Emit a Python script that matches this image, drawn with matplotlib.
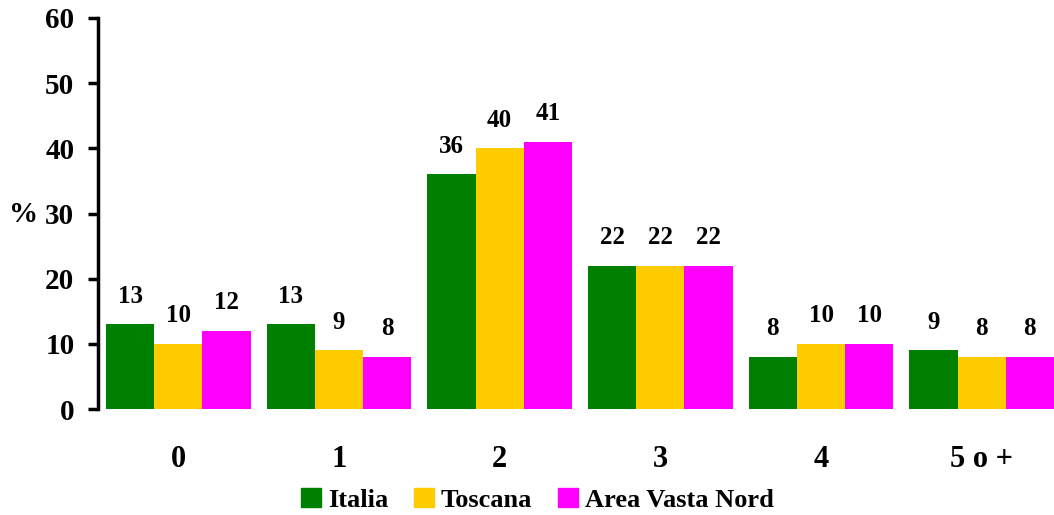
import numpy as np
import matplotlib.pyplot as plt
from matplotlib.patches import Patch

categories = ["0", "1", "2", "3", "4", "5 o +"]
italia = [13, 13, 36, 22, 8, 9]
toscana = [10, 9, 40, 22, 10, 8]
area_vasta_nord = [12, 8, 41, 22, 10, 8]

series = [("Italia", italia, "#008000"),
          ("Toscana", toscana, "#FFCC00"),
          ("Area Vasta Nord", area_vasta_nord, "#FF00FF")]

plt.rcParams["font.family"] = ["Liberation Serif", "DejaVu Serif"]
plt.rcParams["font.weight"] = "bold"

fig = plt.figure(figsize=(10.54, 5.15), dpi=100)
ax = fig.add_axes([98 / 1054, 106 / 515, 956 / 1054, 391 / 515])

x = np.arange(len(categories))
width = 0.3
for i, (name, vals, color) in enumerate(series):
    pos = x + (i - 1) * width
    ax.bar(pos, vals, width=width, color=color, label=name)
    for px, v in zip(pos, vals):
        ax.annotate(str(v), (px, v), xytext=(0, 12), textcoords="offset points",
                    ha="center", va="bottom", fontsize=18, fontweight="bold")

ax.set_xlim(-0.5, 5.45)
ax.set_ylim(0, 60)
ax.set_yticks(range(0, 61, 10))
ax.set_xticks(x)
ax.set_xticklabels(categories, fontsize=22, fontweight="bold")
ax.tick_params(axis="x", length=0, pad=26)
ax.tick_params(axis="y", labelsize=21, width=2.5, length=7, pad=10)
for lbl in ax.get_yticklabels():
    lbl.set_fontweight("bold")

for side in ["top", "right", "bottom"]:
    ax.spines[side].set_visible(False)
ax.spines["left"].set_linewidth(2.5)

fig.text(24 / 1054, 1 - 214 / 515, "%", fontsize=21, fontweight="bold",
         ha="center", va="center")

handles = [Patch(color=c, label=n) for n, _, c in series]
fig.legend(handles=handles, loc="lower center", bbox_to_anchor=(0.51, -0.04),
           ncol=3, frameon=False, fontsize=19, handlelength=0.75, handleheight=0.75,
           handletextpad=0.25, columnspacing=1.0)

fig.savefig("out.png", dpi=100)
